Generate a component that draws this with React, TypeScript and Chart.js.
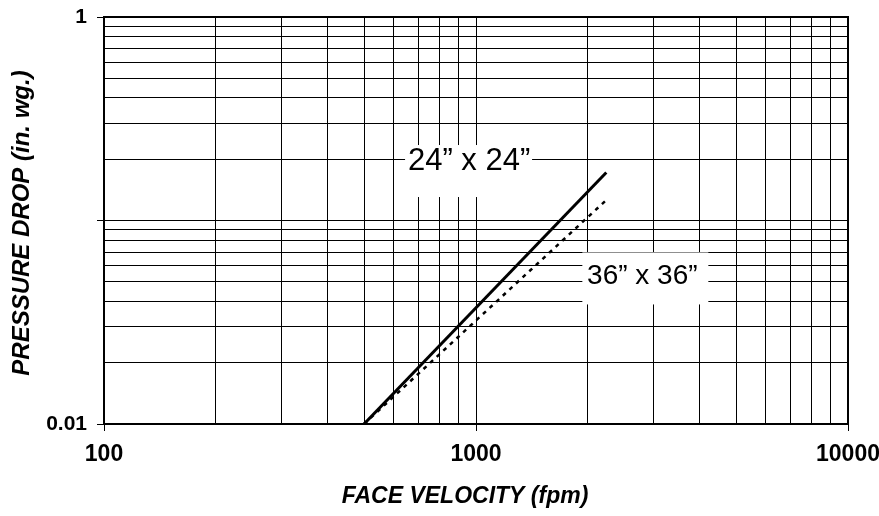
import React, { useEffect, useRef } from 'react';
import { Chart, registerables } from 'chart.js';

Chart.register(...registerables);

// ---- data ----
const VELOCITY = [500, 2240];
const DROP_24 = [0.01, 0.172];
const DROP_36 = [0.01, 0.126];
const SERIES_NAMES = ['24\u201D x 24\u201D', '36\u201D x 36\u201D'];
const LABEL_AT_VELOCITY = [958, 2800];
const LABEL_AT_DROP = [0.196, 0.0531];

const X_GRID = [100, 200, 300, 400, 500, 600, 700, 800, 900, 1000, 2000, 3000, 4000, 5000, 6000, 7000, 8000, 9000, 10000];
const Y_GRID = [0.01, 0.02, 0.03, 0.04, 0.05, 0.06, 0.07, 0.08, 0.09, 0.1, 0.2, 0.3, 0.4, 0.5, 0.6, 0.7, 0.8, 0.9, 1];
const X_TICK_LABELS = [100, 1000, 10000];
const Y_TICK_LABELS = [0.01, 1];
const Y_TICK_MARKS = [0.01, 0.1, 1];
const X_TITLE = 'FACE VELOCITY (fpm)';
const Y_TITLE = 'PRESSURE DROP (in. wg.)';

// ---- styles ----
const FAMILY = "'Liberation Sans', Arial, Helvetica, sans-serif";
const LABEL_BOX = [
  { l: -64, r: 63, t: -16, b: 36, size: 31 },
  { l: -60, r: 66, t: -24, b: 28, size: 28 },
];

const decor = {
  id: 'decor',
  beforeDatasetsDraw(chart: any) {
    const { ctx, chartArea: a, scales } = chart;
    const x = scales.x;
    const y = scales.y;
    ctx.save();
    ctx.strokeStyle = '#000';
    ctx.lineWidth = 2;
    ctx.strokeRect(a.left, a.top, a.right - a.left, a.bottom - a.top);
    SERIES_NAMES.forEach((name, i) => {
      const cx = x.getPixelForValue(LABEL_AT_VELOCITY[i]);
      const cy = y.getPixelForValue(LABEL_AT_DROP[i]);
      const b = LABEL_BOX[i];
      ctx.fillStyle = '#fff';
      ctx.fillRect(cx + b.l, cy + b.t, b.r - b.l, b.b - b.t);
      ctx.fillStyle = '#000';
      ctx.font = `${b.size}px ${FAMILY}`;
      ctx.textAlign = 'center';
      ctx.textBaseline = 'middle';
      ctx.fillText(name, cx, cy);
    });
    ctx.restore();
  },
  afterDraw(chart: any) {
    const { ctx } = chart;
    ctx.save();
    ctx.fillStyle = '#000';
    ctx.textAlign = 'center';
    ctx.textBaseline = 'middle';
    ctx.font = `italic bold 23px ${FAMILY}`;
    ctx.fillText(X_TITLE, 465, 497);
    ctx.translate(22, 223);
    ctx.rotate(-Math.PI / 2);
    ctx.font = `italic bold 24px ${FAMILY}`;
    ctx.fillText(Y_TITLE, 0, 0);
    ctx.restore();
  },
};

export default function App() {
  const ref = useRef<HTMLCanvasElement | null>(null);

  useEffect(() => {
    if (!ref.current) return;
    const chart = new Chart(ref.current, {
      type: 'scatter',
      data: {
        datasets: [
          {
            label: SERIES_NAMES[0],
            data: VELOCITY.map((v, i) => ({ x: v, y: DROP_24[i] })),
            showLine: true,
            borderColor: '#000',
            borderWidth: 3,
            pointRadius: 0,
            fill: false,
          },
          {
            label: SERIES_NAMES[1],
            data: VELOCITY.map((v, i) => ({ x: v, y: DROP_36[i] })),
            showLine: true,
            borderColor: '#000',
            borderWidth: 2.5,
            borderDash: [4, 5],
            pointRadius: 0,
            fill: false,
          },
        ],
      },
      options: {
        animation: false,
        responsive: true,
        maintainAspectRatio: false,
        layout: { padding: { top: 17, right: 31, left: 0, bottom: 0 } },
        plugins: { legend: { display: false }, tooltip: { enabled: false } },
        scales: {
          x: {
            type: 'logarithmic',
            min: 100,
            max: 10000,
            afterBuildTicks: (s: any) => {
              s.ticks = X_GRID.map((v) => ({ value: v }));
            },
            afterFit: (s: any) => {
              s.height = 92;
              s.paddingLeft = 0;
              s.paddingRight = 0;
            },
            border: { display: false },
            grid: {
              color: '#000',
              lineWidth: 1,
              tickLength: 7,
              tickColor: (c: any) => (c.tick && X_TICK_LABELS.includes(c.tick.value) ? '#000' : 'rgba(0,0,0,0)'),
            },
            ticks: {
              autoSkip: false,
              maxRotation: 0,
              minRotation: 0,
              padding: 10,
              color: '#000',
              font: { size: 23, weight: 'bold', family: FAMILY },
              callback: (v: any) => (X_TICK_LABELS.includes(Number(v)) ? String(v) : ''),
            },
          },
          y: {
            type: 'logarithmic',
            min: 0.01,
            max: 1,
            afterBuildTicks: (s: any) => {
              s.ticks = Y_GRID.map((v) => ({ value: v }));
            },
            afterFit: (s: any) => {
              s.width = 104;
              s.paddingTop = 0;
              s.paddingBottom = 0;
            },
            border: { display: false },
            grid: {
              color: '#000',
              lineWidth: 1,
              tickLength: 7,
              tickColor: (c: any) => (c.tick && Y_TICK_MARKS.includes(c.tick.value) ? '#000' : 'rgba(0,0,0,0)'),
            },
            ticks: {
              autoSkip: false,
              padding: 10,
              color: '#000',
              font: { size: 21, weight: 'bold', family: FAMILY },
              callback: (v: any) => (Y_TICK_LABELS.includes(Number(v)) ? String(v) : ''),
            },
          },
        },
      },
      plugins: [decor],
    } as any);
    return () => chart.destroy();
  }, []);

  return (
    <div style={{ position: 'fixed', left: 0, top: 0, width: 879, height: 516, background: '#fff' }}>
      <canvas ref={ref} />
    </div>
  );
}
